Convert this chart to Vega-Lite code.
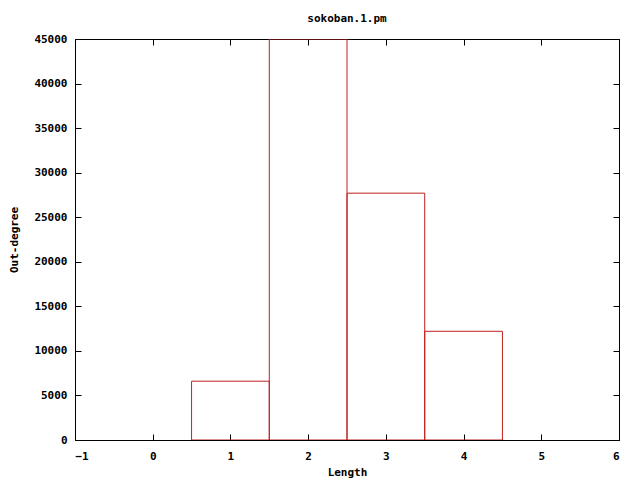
{
  "$schema": "https://vega.github.io/schema/vega-lite/v6.json",
  "autosize": {"type": "none"},
  "width": 544,
  "height": 401,
  "padding": {"left": 75, "top": 39, "right": 21, "bottom": 40},
  "background": "white",
  "title": {"text": "sokoban.1.pm", "font": "DejaVu Sans Mono", "fontSize": 11, "fontWeight": "bold", "color": "#000", "offset": 9, "frame": "group", "anchor": "middle"},
  "config": {
    "view": {"stroke": "#000", "strokeWidth": 1},
    "axis": {"labelFont": "DejaVu Sans Mono", "labelFontSize": 11, "labelFontWeight": "bold", "labelColor": "#000",
             "titleFont": "DejaVu Sans Mono", "titleFontSize": 11, "titleFontWeight": "bold", "titleColor": "#000",
             "domainColor": "#000", "tickColor": "#000", "grid": false, "zindex": 1}
  },
  "data": {"values": [
    {"bin_start": 0.5, "bin_end": 1.5, "outdegree": 6600},
    {"bin_start": 1.5, "bin_end": 2.5, "outdegree": 60000},
    {"bin_start": 2.5, "bin_end": 3.5, "outdegree": 27700},
    {"bin_start": 3.5, "bin_end": 4.5, "outdegree": 12200}
  ]},
  "layer": [
    {
      "mark": {"type": "rect", "fill": null, "stroke": "#c02020", "strokeWidth": 1, "clip": true},
      "encoding": {
        "x": {"field": "bin_start", "type": "quantitative", "scale": {"domain": [-1, 6], "nice": false, "zero": false},
              "axis": {"title": "Length", "values": [-1,0,1,2,3,4,5,6], "tickSize": -6, "labelPadding": 16, "titlePadding": 5, "format": "d"}},
        "x2": {"field": "bin_end"},
        "y": {"field": "outdegree", "type": "quantitative", "scale": {"domain": [0, 45000], "nice": false, "clamp": true},
              "axis": {"title": "Out-degree", "values": [0,5000,10000,15000,20000,25000,30000,35000,40000,45000], "tickSize": -6, "labelPadding": 14, "titlePadding": 14, "format": "d"}},
        "y2": {"datum": 0}
      }
    },
    {
      "mark": {"type": "rect", "opacity": 0},
      "encoding": {
        "x": {"field": "bin_start", "type": "quantitative", "axis": {"orient": "top", "title": null, "labels": false, "values": [-1,0,1,2,3,4,5,6], "tickSize": -6}},
        "y": {"field": "outdegree", "type": "quantitative", "axis": {"orient": "right", "title": null, "labels": false, "values": [0,5000,10000,15000,20000,25000,30000,35000,40000,45000], "tickSize": -6}}
      }
    }
  ],
  "resolve": {"axis": {"x": "independent", "y": "independent"}}
}
